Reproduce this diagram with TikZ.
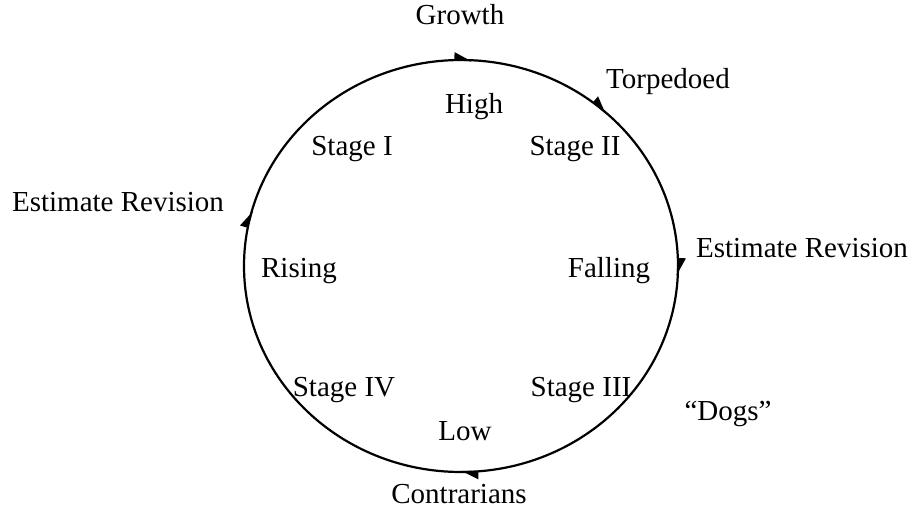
\documentclass[tikz,border=0pt]{standalone}
\usepackage{fontspec}
\setmainfont{Liberation Serif}
\usetikzlibrary{arrows.meta,decorations.markings}
\begin{document}
\begin{tikzpicture}[x=1pt,y=-1pt,
  lbl/.style={anchor=base,inner sep=0pt,font=\fontsize{29}{34}\selectfont},
  cyc/.style={line width=2.2pt,
    postaction={decorate},
    decoration={markings,
      mark=at position 0.042 with {\arrow{hb}},
      mark=at position 0.258 with {\arrow{hb}},
      mark=at position 0.369 with {\arrow{hb}},
      mark=at position 0.507 with {\arrow{hb}},
      mark=at position 0.75 with {\arrow{hb}}}},
  hb/.tip={Triangle[left,length=15pt,width=14pt]}]
\useasboundingbox (0,0) rectangle (912,510);
\coordinate (c) at (461,266);
\draw[cyc] (c) ++(-217,0) arc[start angle=180,end angle=-180,x radius=217,y radius=-206];
\node[lbl] (growth) at (460,25) {Growth};
\node[lbl] (torp) at (668,89) {Torpedoed};
\node[lbl] (high) at (474,114) {High};
\node[lbl] (s1) at (352,156) {Stage I};
\node[lbl] (s2) at (575,156) {Stage II};
\node[lbl] (erl) at (118,212) {Estimate Revision};
\node[lbl] (rising) at (299,278) {Rising};
\node[lbl] (falling) at (609,278) {Falling};
\node[lbl] (err) at (802,258) {Estimate Revision};
\node[lbl] (s4) at (344,396) {Stage IV};
\node[lbl] (s3) at (581,396) {Stage III};
\node[lbl] (dogs) at (728,420) {“Dogs”};
\node[lbl] (low) at (465,440) {Low};
\node[lbl] (contr) at (459,503) {Contrarians};
\end{tikzpicture}
\end{document}
